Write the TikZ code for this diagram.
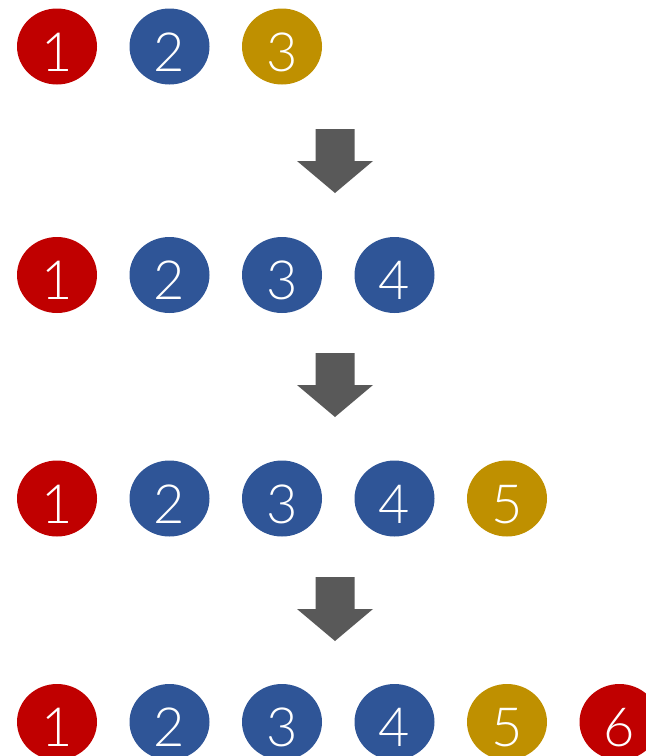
\documentclass[tikz,border=0pt]{standalone}
\usepackage{fontspec}
\setmainfont{Lato}[UprightFont=* Light]
\usetikzlibrary{shapes.geometric}
\definecolor{cred}{HTML}{C00000}
\definecolor{cblue}{HTML}{2F5597}
\definecolor{cgold}{HTML}{BF9000}
\definecolor{cgray}{HTML}{595959}
\tikzset{
  ball/.style={ellipse, minimum width=80pt, minimum height=76pt, inner sep=0pt, text=white, text height=49pt, text depth=0pt, font=\fontsize{54}{54}\selectfont},
  rb/.style={ball, fill=cred},
  bb/.style={ball, fill=cblue},
  gb/.style={ball, fill=cgold},
  downarrow/.style={fill=cgray}
}
\newcommand{\downarr}[1]{%
  \fill[downarrow] (335-19.5,#1) -- (335+19.5,#1) -- (335+19.5,#1-32) -- (373,#1-32) -- (335,#1-64) -- (297,#1-32) -- (335-19.5,#1-32) -- cycle;}
\begin{document}
\begin{tikzpicture}[x=1pt,y=1pt]
\useasboundingbox (0,0) rectangle (646,-756);
% row 1
\node[rb] (a1) at (57,-46.5) {1};
\node[bb] (a2) at (169.5,-46.5) {2};
\node[gb] (a3) at (282,-46.5) {3};
\downarr{-129}
% row 2
\node[rb] (b1) at (57,-275) {1};
\node[bb] (b2) at (169.5,-275) {2};
\node[bb] (b3) at (282,-275) {3};
\node[bb] (b4) at (394.5,-275) {4};
\downarr{-353}
% row 3
\node[rb] (c1) at (57,-498.5) {1};
\node[bb] (c2) at (169.5,-498.5) {2};
\node[bb] (c3) at (282,-498.5) {3};
\node[bb] (c4) at (394.5,-498.5) {4};
\node[gb] (c5) at (507,-498.5) {5};
\downarr{-577}
% row 4
\node[rb] (d1) at (57,-722) {1};
\node[bb] (d2) at (169.5,-722) {2};
\node[bb] (d3) at (282,-722) {3};
\node[bb] (d4) at (394.5,-722) {4};
\node[gb] (d5) at (507,-722) {5};
\node[rb] (d6) at (619.5,-722) {6};
\end{tikzpicture}
\end{document}
